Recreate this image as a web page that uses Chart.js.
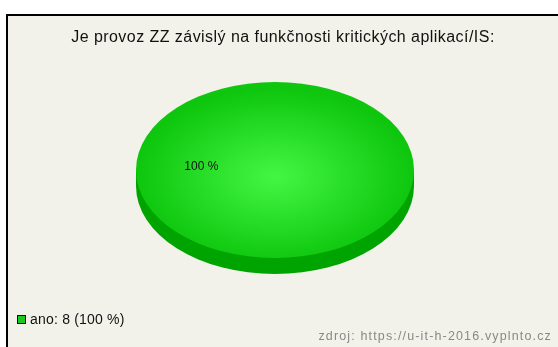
<!DOCTYPE html>
<html lang="cs">
<head>
<meta charset="utf-8">
<title>Je provoz ZZ závislý na funkčnosti kritických aplikací/IS</title>
<script src="https://cdn.jsdelivr.net/npm/chart.js@4.4.1/dist/chart.umd.min.js"></script>
<style>
  html, body { margin: 0; padding: 0; background: #fff; }
  body {
    width: 558px; height: 347px; position: relative; overflow: hidden;
    font-family: "Liberation Sans", Arial, sans-serif;
  }
  .frame {
    position: absolute; left: 6px; top: 14px; width: 600px; height: 400px;
    border: 2px solid #000; background: #f3f2ea;
  }
  #pie { position: absolute; left: 0; top: 0; }
  .title {
    position: absolute; left: 0; width: 566px; top: 28px;
    text-align: center; font-size: 16px; letter-spacing: 0.45px;
    color: #111; white-space: nowrap;
  }
  .legend {
    position: absolute; left: 17px; top: 311px; font-size: 14px;
    letter-spacing: 0.2px; color: #111;
    display: flex; align-items: center; white-space: nowrap;
  }
  .legend .box {
    width: 7px; height: 7px; border: 1px solid #111; background: #1fc81f;
    margin-right: 4px;
  }
  .source {
    position: absolute; right: 6px; top: 329px; font-size: 12.5px;
    letter-spacing: 1.15px; color: #888; white-space: nowrap;
  }
</style>
</head>
<body>
<div class="frame"></div>
<canvas id="pie" width="558" height="347"></canvas>
<div class="title" id="title"></div>
<div class="legend" id="legend"></div>
<div class="source" id="source"></div>
<script>
// data
const categories = ['ano'];
const counts = [8];
const titleText = 'Je provoz ZZ závislý na funkčnosti kritických aplikací/IS:';
const sourceText = 'zdroj: https://u-it-h-2016.vyplnto.cz';

// looks
const TILT = 0.633;       // vertical squash of the pie
const DEPTH = 16;         // thickness of the pie side
const SIDE_COLOR = '#00a400';
const TOP_CENTER = '#44f644';
const TOP_EDGE = '#0ec60e';

const total = counts.reduce((a, b) => a + b, 0);
const percents = counts.map(v => Math.round(v / total * 100));

document.getElementById('title').textContent = titleText;
document.getElementById('source').textContent = sourceText;

// legend
const legend = document.getElementById('legend');
categories.forEach((cat, i) => {
  const box = document.createElement('span');
  box.className = 'box';
  const txt = document.createElement('span');
  txt.textContent = cat + ': ' + counts[i] + ' (' + percents[i] + ' %)';
  legend.appendChild(box);
  legend.appendChild(txt);
});

function topFill(c) {
  const area = c.chart.chartArea;
  if (!area) return TOP_EDGE;
  const cx = (area.left + area.right) / 2;
  const cy = (area.top + area.bottom) / 2;
  const r = Math.min(area.right - area.left, area.bottom - area.top) / 2;
  const g = c.chart.ctx.createRadialGradient(cx, cy + 10, 0, cx, cy + 10, r);
  g.addColorStop(0, TOP_CENTER);
  g.addColorStop(1, TOP_EDGE);
  return g;
}

// squash the pie into an ellipse and give it a side
const pie3d = {
  id: 'pie3d',
  beforeDatasetsDraw(chart) {
    const arc = chart.getDatasetMeta(0).data[0];
    if (!arc) return;
    const { x, y, outerRadius } = arc;
    const ctx = chart.ctx;
    const ry = outerRadius * TILT;
    ctx.save();
    ctx.fillStyle = SIDE_COLOR;
    ctx.beginPath();
    ctx.ellipse(x, y + DEPTH, outerRadius, ry, 0, 0, Math.PI * 2);
    ctx.fill();
    ctx.fillRect(x - outerRadius, y, outerRadius * 2, DEPTH);
    ctx.restore();

    ctx.save();
    ctx.translate(x, y);
    ctx.scale(1, TILT);
    ctx.translate(-x, -y);
  },
  afterDatasetsDraw(chart) {
    const meta = chart.getDatasetMeta(0);
    if (!meta.data[0]) return;
    const ctx = chart.ctx;
    ctx.restore();

    // percent labels
    ctx.save();
    ctx.font = '12px "Liberation Sans", Arial, sans-serif';
    ctx.fillStyle = '#111';
    ctx.textAlign = 'center';
    ctx.textBaseline = 'middle';
    meta.data.forEach((arc, i) => {
      const mid = (arc.startAngle + arc.endAngle) / 2;
      const r = arc.outerRadius * 0.53;
      const lx = arc.x + Math.cos(mid) * r;
      const ly = arc.y + Math.sin(mid) * r * TILT - 3;
      ctx.fillText(percents[i] + ' %', lx, ly);
    });
    ctx.restore();
  }
};

new Chart(document.getElementById('pie'), {
  type: 'pie',
  data: {
    labels: categories,
    datasets: [{
      data: counts,
      backgroundColor: topFill,
      borderWidth: 0,
      clip: false
    }]
  },
  options: {
    responsive: false,
    animation: false,
    events: [],
    rotation: 90,
    layout: { padding: { left: 136, right: 144, top: 31, bottom: 38 } },
    plugins: {
      legend: { display: false },
      title: { display: false },
      tooltip: { enabled: false }
    }
  },
  plugins: [pie3d]
});
</script>
</body>
</html>
